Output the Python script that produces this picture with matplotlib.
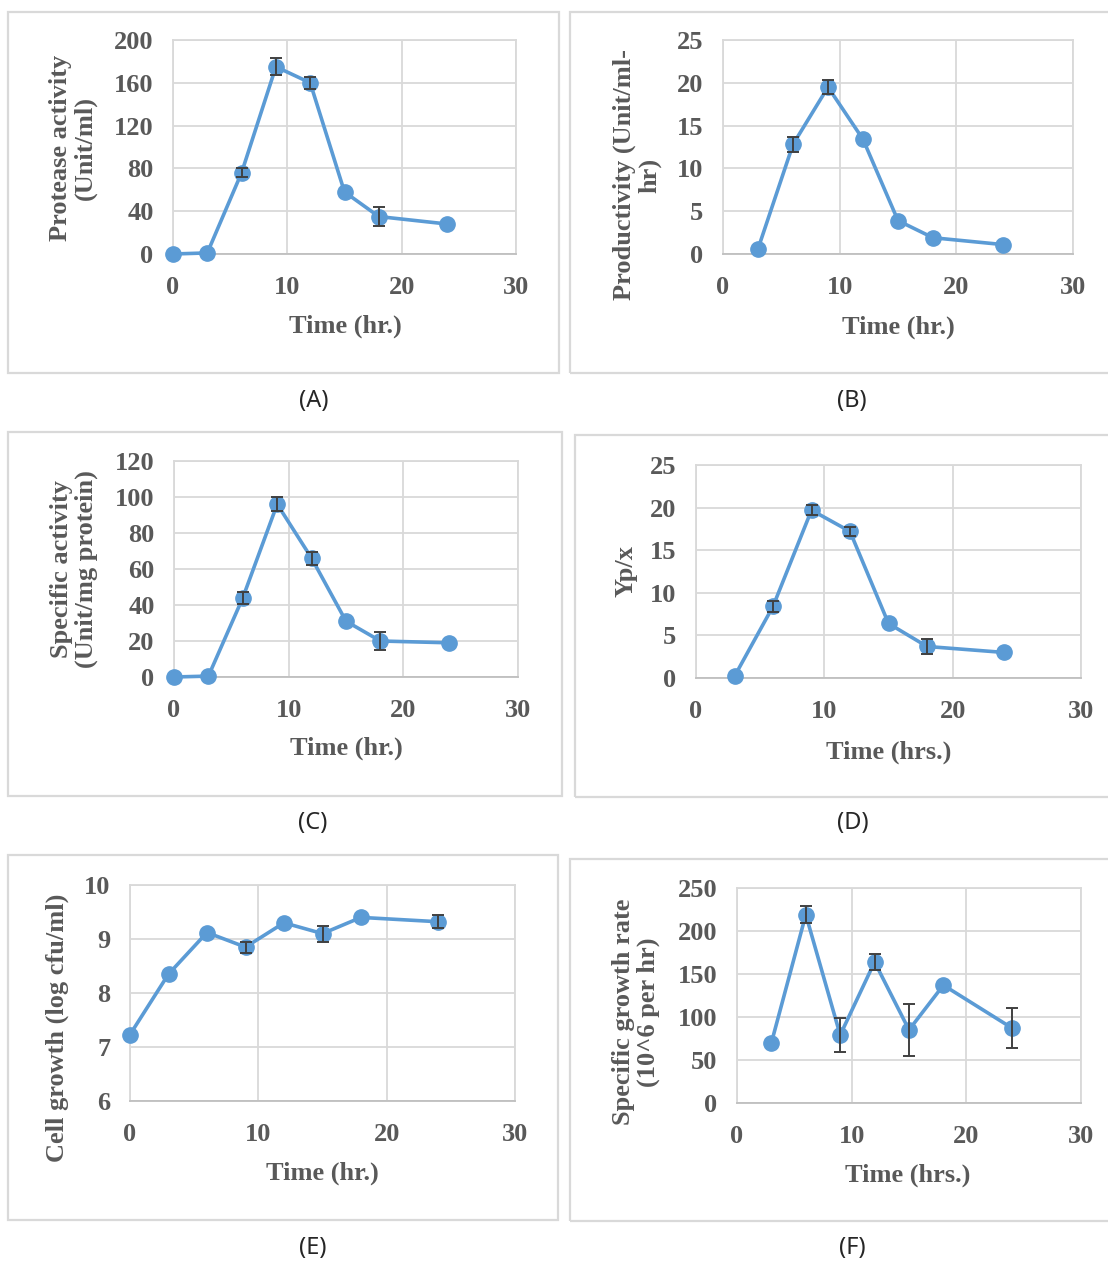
import numpy as np
import matplotlib.pyplot as plt
from matplotlib.patches import Rectangle

# ---- data ----
time_full = [0, 3, 6, 9, 12, 15, 18, 24]
time_short = [3, 6, 9, 12, 15, 18, 24]

protease = [0, 1, 76, 175, 160, 58, 35, 28]
protease_err = [0, 0, 4.5, 8, 5.5, 0, 9, 0]

productivity = [0.6, 12.8, 19.5, 13.4, 3.9, 1.9, 1.1]
productivity_err = [0, 0.9, 0.8, 0, 0, 0, 0]

specific_act = [0, 0.5, 44, 96, 66, 31, 20, 19]
specific_act_err = [0, 0, 3.5, 4, 3.5, 0, 5, 0]

yield_px = [0.2, 8.4, 19.7, 17.2, 6.4, 3.7, 3.0]
yield_px_err = [0, 0.6, 0.6, 0.5, 0, 0.9, 0]

cell_growth = [7.23, 8.35, 9.12, 8.85, 9.30, 9.10, 9.40, 9.32]
cell_growth_err = [0, 0, 0, 0.1, 0, 0.15, 0, 0.12]

growth_rate = [70, 219, 79, 164, 85, 137, 87]
growth_rate_err = [0, 10, 20, 9, 30, 0, 23]

W, H = 1108, 1263
BLUE = "#5B9BD5"
GREY_TXT = "#595959"
GRID = "#D9D9D9"
SERIF = "Liberation Serif"

fig = plt.figure(figsize=(W / 100, H / 100), dpi=100)


def px_rect(x0, y0, x1, y1):
    # pixel box (top-left origin) -> figure fraction
    return [x0 / W, 1 - y1 / H, (x1 - x0) / W, (y1 - y0) / H]


def panel(frame, box, x, y, err, ylim, yticks, ylabel, ylab_xy, xlabel, xlab_xy,
          caption, cap_xy):
    # outer light grey chart border
    bx = px_rect(*box)
    fig.patches.append(Rectangle((bx[0], bx[1]), bx[2], bx[3], transform=fig.transFigure,
                                 fill=False, edgecolor=GRID, linewidth=1.6, zorder=0))

    ax = fig.add_axes(px_rect(*frame))
    ax.set_xlim(0, 30)
    ax.set_ylim(*ylim)
    ax.set_xticks([0, 10, 20, 30])
    ax.set_yticks(yticks)
    ax.grid(True, color=GRID, linewidth=1.3)
    ax.set_axisbelow(True)
    for s in ax.spines.values():
        s.set_color(GRID)
        s.set_linewidth(1.3)
    ax.spines["bottom"].set_color("#BFBFBF")
    ax.tick_params(length=0, labelsize=19, labelcolor=GREY_TXT)
    ax.tick_params(axis="x", pad=16)
    ax.tick_params(axis="y", pad=14)
    for lab in ax.get_xticklabels() + ax.get_yticklabels():
        lab.set_fontfamily(SERIF)
        lab.set_fontweight("bold")

    ax.plot(x, y, color=BLUE, linewidth=2.6, marker="o", markersize=11,
            clip_on=False, zorder=3)
    # only points with a real spread get a bar (zero entries draw nothing)
    xs = [a for a, e in zip(x, err) if e > 0]
    ys = [b for b, e in zip(y, err) if e > 0]
    es = [e for e in err if e > 0]
    ax.errorbar(xs, ys, yerr=es, fmt="none", ecolor="#404040", elinewidth=1.4,
                capsize=4, capthick=1.4, zorder=4, clip_on=False)

    fig.text(ylab_xy[0] / W, 1 - ylab_xy[1] / H, ylabel, rotation=90, ha="center",
             va="center", multialignment="center", linespacing=1.1,
             fontsize=19, fontweight="bold", family=SERIF, color=GREY_TXT)
    fig.text(xlab_xy[0] / W, 1 - xlab_xy[1] / H, xlabel, ha="center", va="center",
             fontsize=19, fontweight="bold", family=SERIF, color=GREY_TXT)
    fig.text(cap_xy[0] / W, 1 - cap_xy[1] / H, caption, ha="center", va="center",
             fontsize=17, family="Noto Sans", color="#262626")
    return ax


panel((173, 40, 516, 254), (8, 12, 559, 373), time_full, protease, protease_err,
      (0, 200), [0, 40, 80, 120, 160, 200], "Protease activity\n(Unit/ml)", (73, 148),
      "Time (hr.)", (345, 326), "(A)", (314, 401))

panel((723, 40, 1073, 254), (570, 12, 1115, 373), time_short, productivity, productivity_err,
      (0, 25), [0, 5, 10, 15, 20, 25], "Productivity (Unit/ml-\nhr)", (637, 175),
      "Time (hr.)", (898, 327), "(B)", (852, 401))

panel((174, 461, 518, 677), (8, 432, 562, 796), time_full, specific_act, specific_act_err,
      (0, 120), [0, 20, 40, 60, 80, 100, 120], "Specific activity\n(Unit/mg protein)", (74, 569),
      "Time (hr.)", (346, 748), "(C)", (313, 823))

panel((696, 465, 1081, 678), (575, 435, 1115, 797), time_short, yield_px, yield_px_err,
      (0, 25), [0, 5, 10, 15, 20, 25], "Yp/x", (626, 571),
      "Time (hrs.)", (889, 752), "(D)", (853, 823))

panel((130, 885, 515, 1101), (8, 855, 558, 1220), time_full, cell_growth, cell_growth_err,
      (6, 10), [6, 7, 8, 9, 10], "Cell growth (log cfu/ml)", (57, 1028),
      "Time (hr.)", (322, 1173), "(E)", (313, 1248))

panel((737, 888, 1081, 1103), (570, 859, 1115, 1221), time_short, growth_rate, growth_rate_err,
      (0, 250), [0, 50, 100, 150, 200, 250], "Specific growth rate\n(10^6 per hr)", (636, 1012),
      "Time (hrs.)", (908, 1175), "(F)", (852, 1248))

fig.savefig("out.png", dpi=100, facecolor="white")
